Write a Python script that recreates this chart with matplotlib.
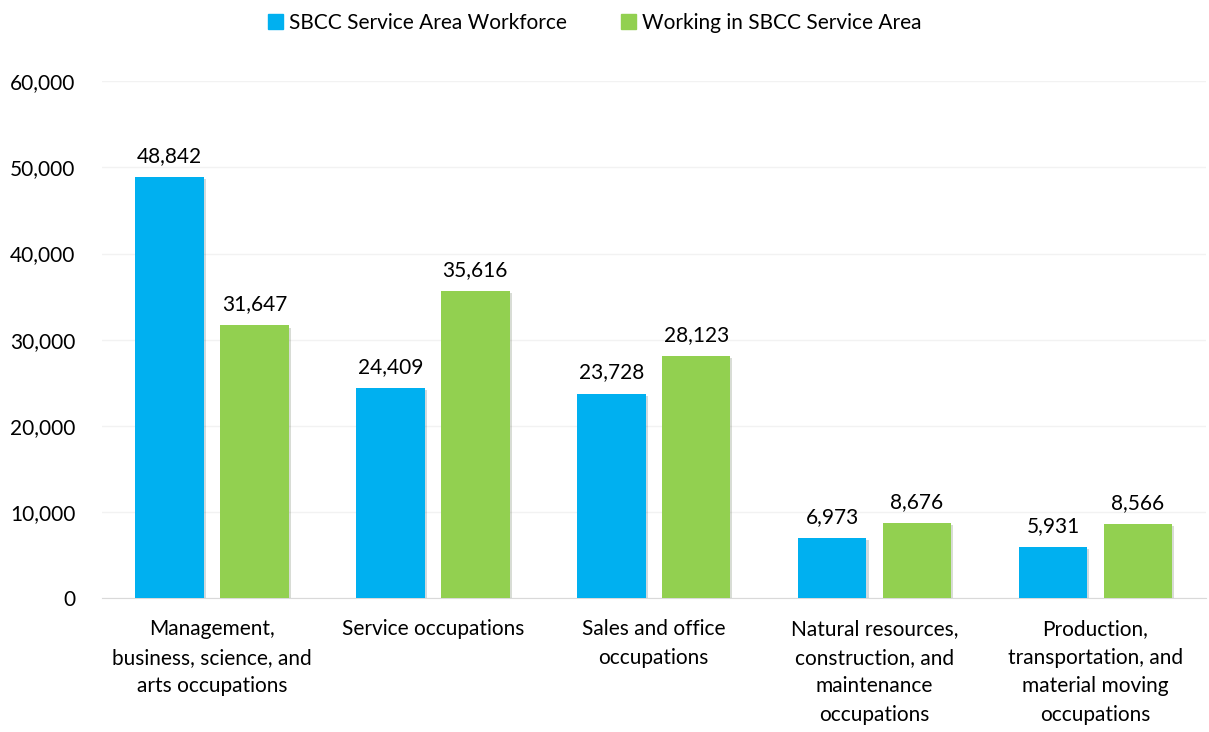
import numpy as np
import matplotlib.pyplot as plt
import matplotlib.patheffects as pe
from matplotlib.patches import Patch
from matplotlib.ticker import FuncFormatter

categories = ['Management,\nbusiness, science, and\narts occupations',
              'Service occupations',
              'Sales and office\noccupations',
              'Natural resources,\nconstruction, and\nmaintenance\noccupations',
              'Production,\ntransportation, and\nmaterial moving\noccupations']
workforce = [48842, 24409, 23728, 6973, 5931]
working_in = [31647, 35616, 28123, 8676, 8566]
series_names = ['SBCC Service Area Workforce', 'Working in SBCC Service Area']
colors = ['#00B0F0', '#92D050']

plt.rcParams['font.family'] = ['Lato', 'DejaVu Sans']

fig = plt.figure(figsize=(12.09, 7.32), dpi=100)
ax = fig.add_axes([0.084, 0.183, 0.9135, 0.706])

ind = np.arange(len(categories))
width = 0.31
off = 0.192
shadow = [pe.SimplePatchShadow(offset=(1.5, -1.5), alpha=0.18), pe.Normal()]

rects1 = ax.bar(ind - off, workforce, width, color=colors[0], zorder=3)
rects2 = ax.bar(ind + off, working_in, width, color=colors[1], zorder=3)
for r in list(rects1) + list(rects2):
    r.set_path_effects(shadow)

def autolabel(rects):
    for rect in rects:
        h = rect.get_height()
        ax.annotate('{:,}'.format(int(h)), (rect.get_x() + rect.get_width() / 2., h),
                    xytext=(0, 8), textcoords='offset points',
                    ha='center', va='bottom', fontsize=15, color='#000000')

autolabel(rects1)
autolabel(rects2)

ax.set_xlim(-0.5, len(categories) - 0.5)
ax.set_ylim(0, 60000)
ax.set_yticks(np.arange(0, 60001, 10000))
ax.yaxis.set_major_formatter(FuncFormatter(lambda v, p: '{:,}'.format(int(v))))
ax.set_xticks(ind)
ax.set_xticklabels(categories, fontsize=15, linespacing=1.55)
ax.tick_params(axis='y', labelsize=15, length=0, pad=19)
ax.tick_params(axis='x', length=0, pad=15)
ax.grid(axis='y', color='#F2F2F2', linewidth=1, zorder=0)
for s in ['top', 'right', 'left']:
    ax.spines[s].set_visible(False)
ax.spines['bottom'].set_color('#D9D9D9')

handles = [Patch(color=c) for c in colors]
fig.legend(handles, series_names, loc='upper center', bbox_to_anchor=(0.492, 1.008), ncol=2,
           frameon=False, fontsize=15, handlelength=0.7, handleheight=0.7,
           handletextpad=0.3, columnspacing=2.6)

fig.savefig('out.png', dpi=100)
